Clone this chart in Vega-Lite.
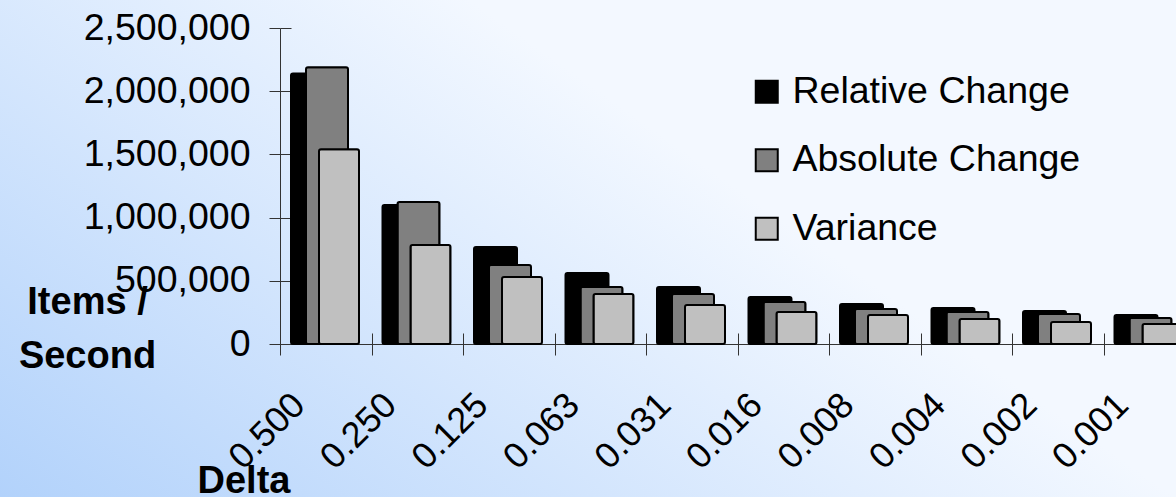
{
  "$schema": "https://vega.github.io/schema/vega-lite/v6.json",
  "width": 1176,
  "height": 497,
  "autosize": {"type": "none"},
  "padding": 0,
  "background": "#f2f8ff",
  "config": {
    "font": "Liberation Sans",
    "view": {
      "stroke": null,
      "fill": {
        "gradient": "linear",
        "x1": 0, "y1": 1, "x2": 0.735, "y2": 0.559,
        "stops": [
          {"offset": 0, "color": "#b2d2fb"},
          {"offset": 1, "color": "#f3f8ff"}
        ]
      }
    },
    "axis": {
      "grid": false,
      "domainColor": "#333333",
      "tickColor": "#333333",
      "domainWidth": 1,
      "tickWidth": 1,
      "labelColor": "#000000",
      "titleColor": "#000000",
      "labelFont": "Liberation Sans",
      "titleFont": "Liberation Sans"
    }
  },
  "data": {
    "values": [
      {"delta": "0.500", "series": "Relative Change", "value": 2140000},
      {"delta": "0.500", "series": "Absolute Change", "value": 2190000},
      {"delta": "0.500", "series": "Variance", "value": 1540000},
      {"delta": "0.250", "series": "Relative Change", "value": 1100000},
      {"delta": "0.250", "series": "Absolute Change", "value": 1123000},
      {"delta": "0.250", "series": "Variance", "value": 783000},
      {"delta": "0.125", "series": "Relative Change", "value": 767000},
      {"delta": "0.125", "series": "Absolute Change", "value": 625000},
      {"delta": "0.125", "series": "Variance", "value": 530000},
      {"delta": "0.063", "series": "Relative Change", "value": 562000},
      {"delta": "0.063", "series": "Absolute Change", "value": 451000},
      {"delta": "0.063", "series": "Variance", "value": 396000},
      {"delta": "0.031", "series": "Relative Change", "value": 451000},
      {"delta": "0.031", "series": "Absolute Change", "value": 396000},
      {"delta": "0.031", "series": "Variance", "value": 309000},
      {"delta": "0.016", "series": "Relative Change", "value": 372000},
      {"delta": "0.016", "series": "Absolute Change", "value": 332000},
      {"delta": "0.016", "series": "Variance", "value": 253000},
      {"delta": "0.008", "series": "Relative Change", "value": 316000},
      {"delta": "0.008", "series": "Absolute Change", "value": 277000},
      {"delta": "0.008", "series": "Variance", "value": 229000},
      {"delta": "0.004", "series": "Relative Change", "value": 285000},
      {"delta": "0.004", "series": "Absolute Change", "value": 253000},
      {"delta": "0.004", "series": "Variance", "value": 198000},
      {"delta": "0.002", "series": "Relative Change", "value": 261000},
      {"delta": "0.002", "series": "Absolute Change", "value": 237000},
      {"delta": "0.002", "series": "Variance", "value": 174000},
      {"delta": "0.001", "series": "Relative Change", "value": 229000},
      {"delta": "0.001", "series": "Absolute Change", "value": 206000},
      {"delta": "0.001", "series": "Variance", "value": 158000}
    ]
  },
  "layer": [
    {
      "transform": [{"filter": "datum.series === 'Relative Change'"}],
      "mark": {"type": "bar", "width": 43, "xOffset": -13.25, "stroke": "#000000", "strokeWidth": 2, "cornerRadius": 2},
      "encoding": {
        "x": {
          "field": "delta", "type": "ordinal",
          "scale": {
            "domain": ["0.500", "0.250", "0.125", "0.063", "0.031", "0.016", "0.008", "0.004", "0.002", "0.001"],
            "range": [280, 1195], "paddingInner": 0, "paddingOuter": 0
          },
          "axis": {
            "orient": "bottom", "offset": -153,
            "tickBand": "extent", "tickSize": 11,
            "labelAngle": -45, "labelAlign": "right", "labelBaseline": "middle",
            "labelFontSize": 36, "labelPadding": 44, "labelOffset": -27,
            "labelOverlap": false, "labelBound": false, "labelFlush": false,
            "title": "Delta", "titleFontSize": 38, "titleFontWeight": "bold",
            "titleX": 243.5, "titleY": 148, "titleAlign": "center", "titleBaseline": "alphabetic"
          }
        },
        "y": {
          "field": "value", "type": "quantitative",
          "scale": {"domain": [0, 2500000], "range": [344, 28], "nice": false, "zero": true},
          "axis": {
            "orient": "left", "offset": -280,
            "values": [0, 500000, 1000000, 1500000, 2000000, 2500000],
            "format": ",d", "tickSize": 11,
            "labelFontSize": 37.5, "labelPadding": 19,
            "title": ["Items /", "Second"], "titleAngle": 0,
            "titleFontSize": 38, "titleFontWeight": "bold",
            "titleX": -193, "titleY": 313, "titleAlign": "center", "titleBaseline": "alphabetic",
            "titleLineHeight": 54
          }
        },
        "color": {
          "field": "series", "type": "nominal",
          "scale": {
            "domain": ["Relative Change", "Absolute Change", "Variance"],
            "range": ["#000000", "#808080", "#c0c0c0"]
          },
          "legend": {
            "orient": "none", "legendX": 748, "legendY": 73,
            "direction": "vertical", "title": null, "padding": 0,
            "labelFontSize": 37.5, "labelColor": "#000000", "labelLimit": 400, "labelOffset": 7,
            "symbolType": "square", "symbolSize": 484,
            "symbolStrokeColor": "#000000", "symbolStrokeWidth": 2,
            "rowPadding": 29.5
          }
        }
      }
    },
    {
      "transform": [{"filter": "datum.series === 'Absolute Change'"}],
      "mark": {"type": "bar", "width": 42, "xOffset": 1.25, "stroke": "#000000", "strokeWidth": 2, "cornerRadius": 2},
      "encoding": {
        "x": {
          "field": "delta", "type": "ordinal",
          "axis": {
            "orient": "top", "offset": -344,
            "tickBand": "extent", "tickSize": 11,
            "domain": false, "labels": false, "title": null
          }
        },
        "y": {
          "field": "value", "type": "quantitative",
          "axis": {
            "orient": "right", "offset": -896,
            "values": [0, 500000, 1000000, 1500000, 2000000, 2500000],
            "tickSize": 11, "domain": false, "labels": false, "title": null
          }
        },
        "color": {"field": "series", "type": "nominal"}
      }
    },
    {
      "transform": [{"filter": "datum.series === 'Variance'"}],
      "mark": {"type": "bar", "width": 40, "xOffset": 13.25, "stroke": "#000000", "strokeWidth": 2, "cornerRadius": 2},
      "encoding": {
        "x": {"field": "delta", "type": "ordinal", "axis": null},
        "y": {"field": "value", "type": "quantitative", "axis": null},
        "color": {"field": "series", "type": "nominal"}
      }
    }
  ],
  "resolve": {"axis": {"x": "independent", "y": "independent"}}
}
